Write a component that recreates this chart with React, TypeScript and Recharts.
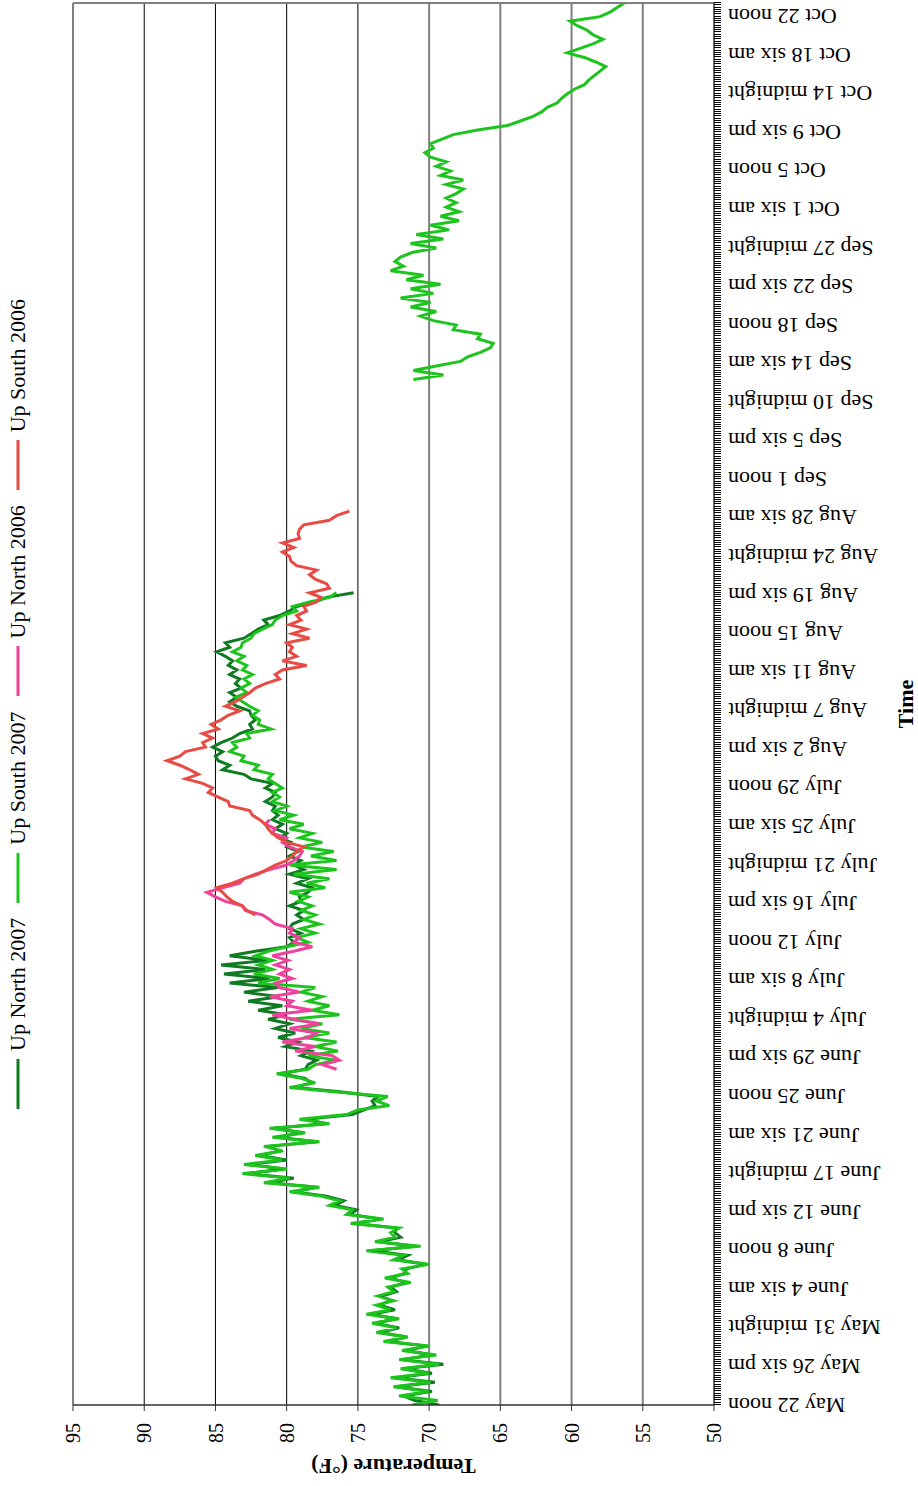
import React from 'react';
import { LineChart, Line, XAxis, YAxis, CartesianGrid, Label } from 'recharts';

// Readings every 12 hours, index 0 = May 22 noon.
const STEP_HOURS = 12;
const LAST_INDEX = 309;

const timeLabels = [
  'May 22 noon', 'May 26 six pm', 'May 31 midnight', 'June 4 six am', 'June 8 noon',
  'June 12 six pm', 'June 17 midnight', 'June 21 six am', 'June 25 noon', 'June 29 six pm',
  'July 4 midnight', 'July 8 six am', 'July 12 noon', 'July 16 six pm', 'July 21 midnight',
  'July 25 six am', 'July 29 noon', 'Aug 2 six pm', 'Aug 7 midnight', 'Aug 11 six am',
  'Aug 15 noon', 'Aug 19 six pm', 'Aug 24 midnight', 'Aug 28 six am', 'Sep 1 noon',
  'Sep 5 six pm', 'Sep 10 midnight', 'Sep 14 six am', 'Sep 18 noon', 'Sep 22 six pm',
  'Sep 27 midnight', 'Oct 1 six am', 'Oct 5 noon', 'Oct 9 six pm', 'Oct 14 midnight',
  'Oct 18 six am', 'Oct 22 noon',
];
const LABEL_EVERY_HOURS = 102;
const MINOR_TICK_HOURS = 6;

const tempTicks = [50, 55, 60, 65, 70, 75, 80, 85, 90, 95];
const darkGridTemps = [75, 80, 85, 90];
const greyGridTemps = [55, 60, 65, 70, 95];

const upNorth2007Start = 0;
const upNorth2007 = [
  69.3, 71.0, 71.8, 69.8, 72.3, 69.6, 72.4, 69.8, 71.8, 69.0, 71.9, 69.8, 71.6, 70.2, 72.9, 71.6,
  73.4, 72.1, 73.8, 72.3, 74.1, 72.4, 73.5, 72.7, 73.3, 72.3, 72.7, 71.6, 72.8, 71.7, 71.6, 70.3,
  72.2, 71.5, 74.0, 71.0, 73.5, 72.0, 72.4, 72.3, 75.2, 73.5, 75.5, 75.1, 76.6, 76.0,
  77.2, 79.5, 77.9, 81.2, 79.5, 82.7, 80.2, 82.6, 80.0, 81.9, 80.5, 81.3, 77.9, 80.7, 78.9, 80.9,
  77.3, 78.6, 75.4, 74.6, 73.8, 74.0, 73.6, 76.1, 79.4, 78.3, 78.7, 80.4, 78.7, 78.5, 77.9, 79.0,
  78.3, 80.1, 79.2, 80.6, 79.4, 80.8,
  79.8, 81.3, 80.0, 82.0, 80.3, 82.7, 80.5, 83.0, 80.6, 84.0, 81.2, 84.4, 81.5, 84.6, 81.3, 84.0,
  82.2, 80.0,
  79.5, 79.8, 79.0, 79.8, 79.6, 78.8, 79.3, 78.8, 79.8, 79.0, 79.1, 78.5, 78.2, 79.3, 78.5, 79.8,
  78.8, 79.5, 79.0, 79.8, 79.2, 80.0, 79.7, 80.5, 80.0, 80.8, 80.3, 81.0, 80.6, 81.0, 80.8, 81.5,
  81.0, 80.8, 81.5, 81.0, 82.5, 83.0, 84.5, 84.0, 84.8, 85.0, 84.5, 85.2, 84.6, 83.8, 83.3, 82.4,
  82.6, 82.2, 82.5, 82.6, 83.5, 84.0, 83.5, 84.0, 83.2, 83.6, 83.3, 84.0, 83.5, 84.1, 83.8, 84.3,
  84.9, 84.0, 84.3, 83.0, 82.5, 82.0, 81.3, 81.6, 80.5, 79.8, 79.3, 78.0, 77.2, 75.3,
];

const upSouth2007EarlyStart = 0;
const upSouth2007Early = [
  71.2, 69.4, 72.1, 70.0, 72.5, 69.9, 72.7, 70.0, 72.0, 69.3, 72.1, 69.5, 71.9, 70.0, 73.2, 71.5,
  73.7, 72.3, 74.0, 72.1, 74.4, 72.7, 73.7, 72.5, 73.6, 72.5, 72.9, 71.3, 73.1, 71.5, 71.9, 70.0,
  72.5, 71.8, 74.4, 70.6, 73.8, 72.4, 72.7, 72.1, 75.5, 73.2, 75.8, 75.4, 77.0, 76.3,
  77.5, 79.8, 77.7, 81.6, 79.8, 83.1, 80.0, 83.0, 80.3, 82.2, 80.3, 81.6, 77.7, 81.0, 78.7, 81.2,
  77.0, 79.1, 75.8, 75.0, 72.8, 73.7, 72.9, 76.5, 79.8, 78.0, 79.0, 80.7, 78.5, 78.0, 76.5, 78.5,
  76.4, 78.0, 76.5, 78.8, 77.0, 79.0, 77.5, 79.8, 76.3, 78.2, 77.0, 78.5, 77.5, 79.0,
  78.0, 82.0, 80.5, 82.3, 81.0, 82.0, 81.0, 82.2, 81.3, 80.0, 78.5, 79.3, 78.0, 79.0, 77.7, 78.8,
  78.0, 79.0, 78.2, 79.2, 78.5, 79.8, 77.3, 78.6, 77.0, 79.5, 76.5, 79.8, 76.5, 78.3, 76.7, 79.0,
  77.5, 79.1, 78.2, 79.8, 78.8, 80.5, 79.5, 80.8, 80.0, 81.0,
  80.5, 81.0, 80.3, 80.8, 81.3, 81.0, 82.3, 82.0, 83.2, 83.0, 84.0, 83.5, 83.8, 82.6, 82.8, 81.1,
  82.0, 81.9, 82.4, 82.0, 82.6, 83.1, 83.6, 82.8, 83.2, 82.6, 83.0, 82.4, 83.1, 82.8, 83.5, 83.0,
  83.8, 83.2, 83.1, 82.5, 82.3, 81.7, 81.0, 80.8, 80.3, 79.3, 79.6, 78.4, 77.0, 76.5,
];

const upSouth2007LateStart = 226;
const upSouth2007Late = [
  71.1, 69.0, 71.1, 69.5, 67.8, 67.3, 66.4, 65.7, 65.5, 66.6, 66.4, 68.3, 68.1, 69.7, 70.6, 69.5,
  71.3, 69.9, 72.0, 69.7, 71.3, 69.2, 71.6, 70.4, 72.7, 71.8, 72.4, 72.0, 71.2, 69.5, 71.3, 69.0,
  70.9, 68.6, 69.9, 67.9, 69.2, 67.9, 68.8, 68.1, 68.8, 68.1, 67.6,
  68.8, 67.6, 69.2, 68.5, 69.5, 68.8, 69.9, 70.3, 69.7, 69.9, 69.1, 68.3, 66.6, 64.5, 63.6, 62.7,
  62.1, 61.7, 61.0, 60.7, 60.3, 59.8, 59.1, 58.8, 58.4, 58.0, 57.6, 58.3, 59.1, 60.3, 59.4, 58.5,
  57.8, 58.5, 58.9, 59.6, 60.1, 58.0, 57.3, 56.8, 56.3,
];

const upNorth2006Start = 74;
const upNorth2006 = [
  76.5, 77.5, 76.3, 76.8, 79.4, 78.0, 80.3, 78.5, 77.9, 79.8, 77.7, 79.5, 81.0, 78.2, 80.0, 79.6,
  81.2, 79.1, 80.5, 80.8, 79.6, 80.5, 79.8, 80.8, 79.9, 81.0, 79.5, 78.2, 79.5, 79.1, 79.8, 79.6,
  80.8, 81.2, 81.7, 82.9, 83.1, 84.3, 85.0, 85.6, 84.5, 83.3, 83.0, 82.2, 81.2, 80.0, 79.5, 79.1,
  78.9, 79.8, 80.3, 80.0, 81.0, 80.8, 81.5, 81.2,
];

const upSouth2006Start = 108;
const upSouth2006 = [
  82.2, 82.8, 83.1, 83.8, 84.2, 84.5, 84.9, 83.8, 83.0, 82.0, 81.4, 80.8, 80.0, 79.6, 79.3, 78.8,
  80.0, 80.6, 81.0, 81.3, 81.5, 81.9, 82.4, 82.6, 84.0, 84.1, 84.8, 85.5, 85.2, 85.9, 87.1, 86.2,
  86.8, 87.5, 88.4, 87.5, 87.1, 85.7, 85.9, 85.2, 85.9, 84.8, 85.3, 84.6, 84.1, 83.3, 84.3, 83.6,
  83.1, 82.6, 82.2, 81.5, 80.5, 80.8, 80.3, 78.6, 80.3, 79.3, 79.8, 79.6, 80.0, 78.4, 79.6, 78.6,
  79.8, 79.0, 79.3, 78.6, 78.8, 77.9, 77.6, 78.4, 77.0, 77.2, 78.0, 78.4, 77.9, 79.3, 79.7, 79.8,
  80.3, 79.5, 80.3, 79.1, 79.2, 79.1, 78.8, 77.0, 76.5, 75.6,
];

const series = [
  { key: 'upNorth2007', name: 'Up North 2007', color: '#0E7A22' },
  { key: 'upSouth2007', name: 'Up South 2007', color: '#1DC41D' },
  { key: 'upNorth2006', name: 'Up North 2006', color: '#F0419C' },
  { key: 'upSouth2006', name: 'Up South 2006', color: '#E84A44' },
];

type Row = { h: number; [k: string]: number | null };

const rows: Row[] = [];
for (let i = 0; i <= LAST_INDEX; i++) {
  rows.push({ h: i * STEP_HOURS, upNorth2007: null, upSouth2007: null, upNorth2006: null, upSouth2006: null });
}
const place = (key: string, start: number, values: number[]) => {
  values.forEach((v, k) => {
    rows[start + k][key] = v;
  });
};
place('upNorth2007', upNorth2007Start, upNorth2007);
place('upSouth2007', upSouth2007EarlyStart, upSouth2007Early);
place('upSouth2007', upSouth2007LateStart, upSouth2007Late);
place('upNorth2006', upNorth2006Start, upNorth2006);
place('upSouth2006', upSouth2006Start, upSouth2006);

const maxHour = LAST_INDEX * STEP_HOURS;
const hourTicks: number[] = [];
for (let h = 0; h <= maxHour; h += MINOR_TICK_HOURS) hourTicks.push(h);

const FONT = '"Liberation Serif", "Times New Roman", serif';

// chart is laid out landscape, then turned a quarter turn counter-clockwise
const CHART_W = 1486;
const CHART_H = 918;
const X_TICK_SIZE = 7;
const X_TICK_MARGIN = 7;

// every 6 hours gets a tick mark, every 102 hours a label
const TimeTick = (props: any) => {
  const { x, y, payload } = props;
  const v = payload?.value ?? 0;
  const top = y - X_TICK_MARGIN - X_TICK_SIZE;
  const px = Math.round(x) + 0.5;
  const mark = (
    <line x1={px} y1={top} x2={px} y2={top + X_TICK_SIZE} stroke="#000" strokeWidth={1} shapeRendering="crispEdges" />
  );
  if (v % LABEL_EVERY_HOURS !== 0) return <g>{mark}</g>;
  const label = timeLabels[v / LABEL_EVERY_HOURS];
  return (
    <g>
      {mark}
      <text
        x={x}
        y={y}
        transform={`rotate(-90 ${x} ${y})`}
        textAnchor="end"
        dominantBaseline="central"
        fontSize={22}
        fontFamily={FONT}
        fill="#000"
      >
        {label}
      </text>
    </g>
  );
};

const YTitle = (props: any) => {
  const vb = props.viewBox || { x: 0, y: 73, width: 81, height: 641 };
  const cx = 20;
  const cy = vb.y + vb.height / 2;
  return (
    <text
      x={cx}
      y={cy}
      transform={`rotate(-90 ${cx} ${cy})`}
      textAnchor="middle"
      dominantBaseline="central"
      fontSize={22}
      fontWeight="bold"
      fontFamily={FONT}
      fill="#000"
    >
      Temperature (°F)
    </text>
  );
};

const XTitle = (props: any) => {
  const vb = props.viewBox || { x: 81, y: 714, width: 1402, height: 204 };
  const cx = vb.x + vb.width / 2;
  return (
    <text x={cx} y={905} textAnchor="middle" dominantBaseline="central" fontSize={22} fontWeight="bold" fontFamily={FONT} fill="#000">
      Time
    </text>
  );
};

const gridAt = (temps: number[]) => (p: any) => {
  const { yAxis, offset } = p;
  return temps.map(t =>
    yAxis && typeof yAxis.scale === 'function'
      ? yAxis.scale(t)
      : offset.top + ((95 - t) / 45) * offset.height,
  );
};

export default function App() {
  return (
    <div style={{ position: 'absolute', left: 0, top: 0, width: 918, height: 1486, overflow: 'hidden', background: '#fff' }}>
      <div
        style={{
          position: 'absolute',
          left: 0,
          top: 0,
          width: CHART_W,
          height: CHART_H,
          transformOrigin: '0 0',
          transform: `translateY(${CHART_W}px) rotate(-90deg)`,
          fontFamily: FONT,
        }}
      >
        <div
          style={{
            position: 'absolute',
            left: 81,
            top: 0,
            width: 1402,
            height: 36,
            display: 'flex',
            justifyContent: 'center',
            alignItems: 'center',
            gap: 15,
            fontSize: 22,
            color: '#000',
            zIndex: 2,
          }}
        >
          {series.map(s => (
            <div key={s.key} style={{ display: 'flex', alignItems: 'center' }}>
              <svg width={50} height={6}>
                <line x1={0} y1={3} x2={50} y2={3} stroke={s.color} strokeWidth={3} />
              </svg>
              <span style={{ marginLeft: 8, whiteSpace: 'nowrap' }}>{s.name}</span>
            </div>
          ))}
        </div>

        <LineChart width={CHART_W} height={CHART_H} data={rows} margin={{ top: 73, right: 3, bottom: 0, left: 0 }}>
          <CartesianGrid
            vertical={false}
            stroke="#000"
            strokeWidth={1}
            horizontalCoordinatesGenerator={gridAt(darkGridTemps)}
          />
          <CartesianGrid
            stroke="#808080"
            strokeWidth={2}
            horizontalCoordinatesGenerator={gridAt(greyGridTemps)}
            verticalCoordinatesGenerator={(p: any) => [p.offset.left + p.offset.width]}
          />
          <XAxis
            dataKey="h"
            type="number"
            domain={[0, maxHour]}
            ticks={hourTicks}
            interval={0}
            tick={<TimeTick />}
            tickSize={X_TICK_SIZE}
            tickMargin={X_TICK_MARGIN}
            height={204}
            axisLine={{ stroke: '#333', strokeWidth: 1.5 }}
            tickLine={false}
            allowDataOverflow
          >
            <Label content={<XTitle />} />
          </XAxis>
          <YAxis
            type="number"
            domain={[50, 95]}
            ticks={tempTicks}
            interval={0}
            width={81}
            tickSize={6}
            tickMargin={12}
            tick={{ fontSize: 20, fill: '#000', fontFamily: FONT }}
            axisLine={{ stroke: '#333', strokeWidth: 1.5 }}
            tickLine={{ stroke: '#333' }}
          >
            <Label content={<YTitle />} />
          </YAxis>
          {series.map(s => (
            <Line
              key={s.key}
              dataKey={s.key}
              name={s.name}
              type="linear"
              stroke={s.color}
              strokeWidth={3}
              dot={false}
              activeDot={false}
              isAnimationActive={false}
            />
          ))}
        </LineChart>
      </div>
    </div>
  );
}
